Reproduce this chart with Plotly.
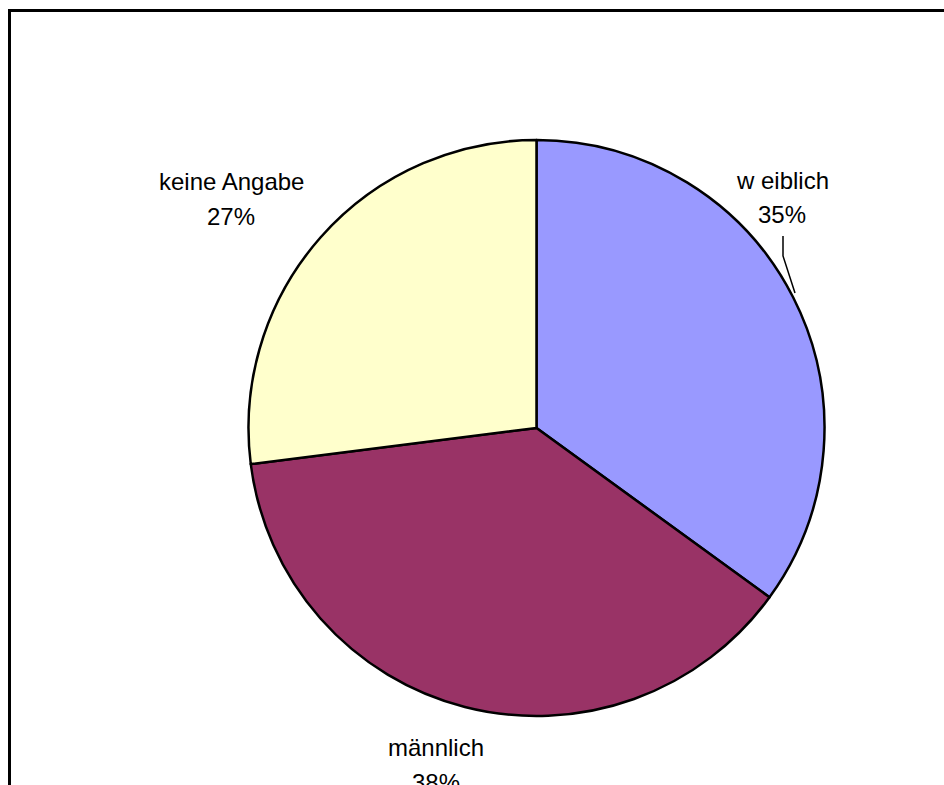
import plotly.graph_objects as go

# Geschlechterverteilung der Befragten
categories = ["w eiblich", "männlich", "keine Angabe"]
values = [35, 38, 27]
colors = ["#9999FF", "#993366", "#FFFFCC"]

W, H = 944, 785


def px(x):
    return x / W


def py(y):
    return 1 - y / H


# pie geometry in pixels
cx, cy, r = 536.5, 428, 288

fig = go.Figure(
    go.Pie(
        labels=categories,
        values=values,
        sort=False,
        direction="clockwise",
        rotation=0,
        marker=dict(colors=colors, line=dict(color="black", width=2.5)),
        textinfo="none",
        hoverinfo="label+percent",
        domain=dict(x=[px(cx - r), px(cx + r)], y=[py(cy + r), py(cy - r)]),
        showlegend=False,
    )
)

total = sum(values)
pct = [f"{round(v / total * 100)}%" for v in values]

# label positions (name line, percent line)
label_pos = [(782, 181, 215), (436, 747, 782), (231, 182, 217)]
font = dict(family="Liberation Sans, Arial, sans-serif", size=24, color="black")
annotations = []
for name, p, (x, y1, y2) in zip(categories, pct, label_pos):
    annotations.append(dict(x=px(x), y=py(y1), xref="paper", yref="paper", text=name,
                            showarrow=False, font=font, xanchor="center", yanchor="middle"))
    annotations.append(dict(x=px(x), y=py(y2), xref="paper", yref="paper", text=p,
                            showarrow=False, font=font, xanchor="center", yanchor="middle"))

shapes = [
    # chart area frame
    dict(type="rect", xref="paper", yref="paper", x0=px(9.5), y0=py(10.5), x1=1.2, y1=-0.2,
         line=dict(color="black", width=3), fillcolor="rgba(0,0,0,0)"),
    # leader line for the first label
    dict(type="path", xref="paper", yref="paper",
         path=f"M {px(783)} {py(236)} L {px(783)} {py(256)} L {px(795)} {py(293)}",
         line=dict(color="black", width=1.5)),
]

fig.update_layout(
    width=W,
    height=H,
    margin=dict(l=0, r=0, t=0, b=0),
    paper_bgcolor="white",
    plot_bgcolor="white",
    annotations=annotations,
    shapes=shapes,
)

fig.write_html("out.html")
